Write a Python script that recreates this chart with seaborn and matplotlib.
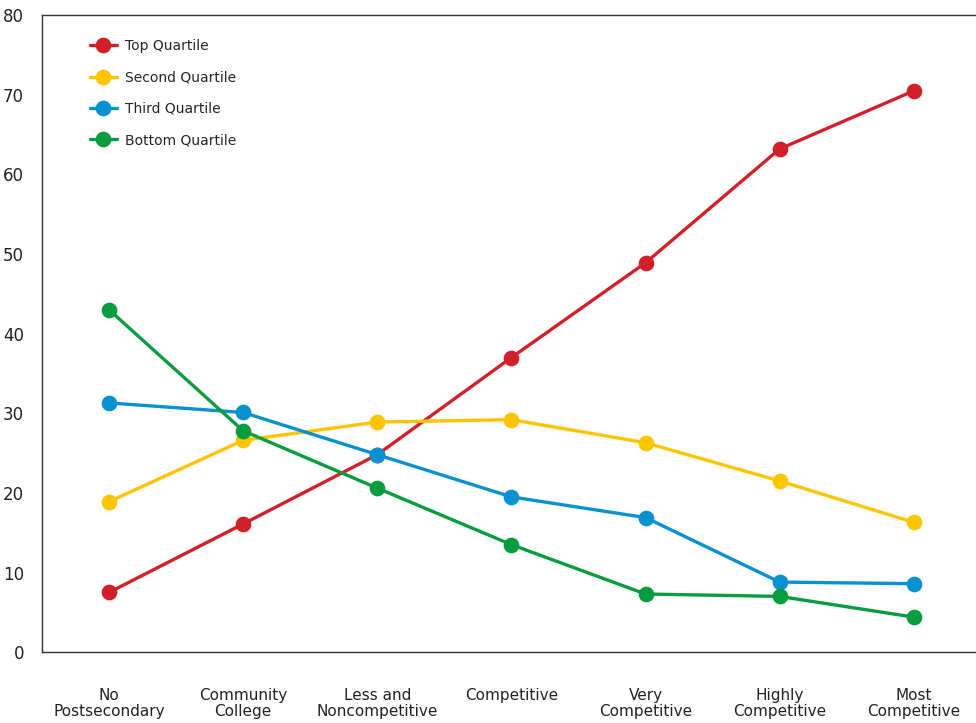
import matplotlib
matplotlib.use("Agg")
import matplotlib.pyplot as plt
import pandas as pd
import seaborn as sns

categories = ["No\nPostsecondary", "Community\nCollege", "Less and\nNoncompetitive",
              "Competitive", "Very\nCompetitive", "Highly\nCompetitive", "Most\nCompetitive"]
top_quartile = [7.5, 16.1, 24.8, 37.0, 48.9, 63.2, 70.5]
second_quartile = [18.9, 26.6, 28.9, 29.2, 26.3, 21.5, 16.3]
third_quartile = [31.3, 30.1, 24.8, 19.5, 16.9, 8.8, 8.6]
bottom_quartile = [43.0, 27.8, 20.6, 13.5, 7.3, 7.0, 4.4]

series = {
    "Top Quartile": top_quartile,
    "Second Quartile": second_quartile,
    "Third Quartile": third_quartile,
    "Bottom Quartile": bottom_quartile,
}
colors = ["#d2202a", "#fdc400", "#0891d1", "#079c3f"]

rows = []
for name, vals in series.items():
    for cat, v in zip(categories, vals):
        rows.append({"category": cat, "quartile": name, "value": v})
df = pd.DataFrame(rows)

sns.set_style("white")
plt.rcParams["font.family"] = ["Liberation Sans Narrow", "DejaVu Sans"]

fig = plt.figure(figsize=(9.76, 7.23), dpi=100)
ax = fig.add_axes([0.043, 0.098, 0.962, 0.881])

sns.pointplot(data=df, x="category", y="value", hue="quartile",
              order=categories, hue_order=list(series.keys()),
              palette=colors, markers="o", markersize=9.5, linewidth=2.4,
              errorbar=None, ax=ax)

ax.set_xlim(-0.5, 6.5)
ax.set_ylim(0, 80)
ax.set_yticks(range(0, 81, 10))
ax.set_xlabel("")
ax.set_ylabel("")

for side in ["left", "bottom", "top", "right"]:
    ax.spines[side].set_color("#333333")
    ax.spines[side].set_linewidth(1.0)

ax.tick_params(axis="y", direction="in", length=7, width=1, color="#333333",
               labelsize=12, pad=13, labelcolor="#222222")
ax.tick_params(axis="x", length=0, labelsize=11, pad=26, labelcolor="#222222")
for lbl in ax.get_xticklabels():
    lbl.set_linespacing(1.1)

leg = ax.legend(loc="upper left", bbox_to_anchor=(0.038, 0.982), frameon=False,
                fontsize=10, handlelength=1.9, labelspacing=1.25,
                handletextpad=0.6)

fig.savefig("out.png", dpi=100)
